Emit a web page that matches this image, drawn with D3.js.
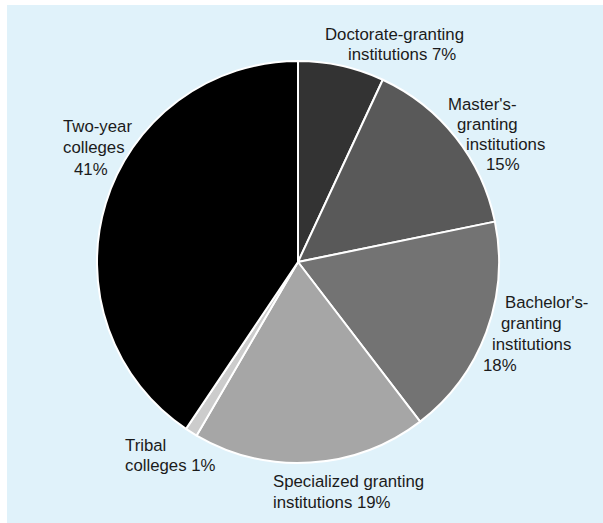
<!DOCTYPE html>
<html>
<head>
<meta charset="utf-8">
<script src="https://cdn.jsdelivr.net/npm/d3@7"></script>
<style>
  html, body { margin: 0; padding: 0; background: #ffffff; }
  svg { display: block; }
  text { font-family: "Liberation Sans", Arial, Helvetica, sans-serif; font-size: 16.8px; fill: #1b1b1b; }
</style>
</head>
<body>
<svg id="chart" width="603" height="523"></svg>
<script>
// Institution types, clockwise from 12 o'clock
const categories = [
  "Doctorate-granting institutions",
  "Master's-granting institutions",
  "Bachelor's-granting institutions",
  "Specialized granting institutions",
  "Tribal colleges",
  "Two-year colleges"
];
const shares = [7, 15, 18, 19, 1, 41];
const sliceColors = ["#333333", "#595959", "#737373", "#a6a6a6", "#cccccc", "#000000"];

// Label text, one entry per line
const labelLines = [
  ["Doctorate-granting", "institutions 7%"],
  ["Master's-", "granting", "institutions", "15%"],
  ["Bachelor's-", "granting", "institutions", "18%"],
  ["Specialized granting", "institutions 19%"],
  ["Tribal", "colleges 1%"],
  ["Two-year", "colleges", "41%"]
];

// Label placement (line start x, baseline y)
const labelLayout = [
  [[325, 40], [348, 60]],
  [[448, 110], [457, 130], [466, 150], [486, 170]],
  [[505, 308], [501, 329], [492, 350], [483, 371]],
  [[273, 487], [273, 508]],
  [[125, 451], [125, 471]],
  [[63, 132], [63, 153], [74, 175]]
];

const svg = d3.select("#chart");
const W = 603, H = 523;

// Light blue panel
svg.append("rect")
  .attr("x", 7).attr("y", 5)
  .attr("width", W - 7).attr("height", H - 5)
  .attr("fill", "#e0f2fa");

const cx = 298, cy = 262, radius = 201;

const pie = d3.pie().sort(null).value(d => d).startAngle(0).endAngle(2 * Math.PI);
const arc = d3.arc().innerRadius(0).outerRadius(radius);
const color = d3.scaleOrdinal().domain(categories).range(sliceColors);

const g = svg.append("g").attr("transform", `translate(${cx},${cy})`);

g.selectAll("path")
  .data(pie(shares))
  .join("path")
  .attr("d", arc)
  .attr("fill", (d, i) => color(categories[i]))
  .attr("stroke", "#ffffff")
  .attr("stroke-width", 2)
  .attr("stroke-linejoin", "round");

// Labels
labelLines.forEach((lines, i) => {
  const t = svg.append("text");
  lines.forEach((line, j) => {
    t.append("tspan")
      .attr("x", labelLayout[i][j][0])
      .attr("y", labelLayout[i][j][1])
      .text(line);
  });
});
</script>
</body>
</html>
